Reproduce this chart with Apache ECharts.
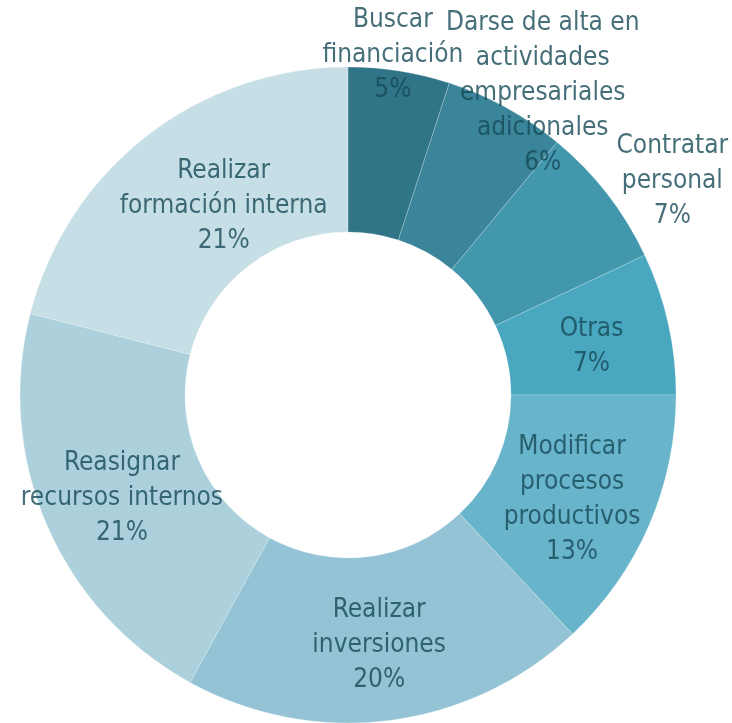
<!DOCTYPE html>
<html>
<head>
<meta charset="utf-8">
<script src="https://cdn.jsdelivr.net/npm/echarts@6/dist/echarts.min.js"></script>
<style>
  html, body { margin: 0; padding: 0; background: #fff; }
  #chart { width: 732px; height: 723px; }
</style>
</head>
<body>
<div id="chart"></div>
<script>
// Acciones adoptadas (%)
const categories = [
  'Buscar\nfinanciación',
  'Darse de alta en\nactividades\nempresariales\nadicionales',
  'Contratar\npersonal',
  'Otras',
  'Modificar\nprocesos\nproductivos',
  'Realizar\ninversiones',
  'Reasignar\nrecursos internos',
  'Realizar\nformación interna'
]
const values = [5, 6, 7, 7, 13, 20, 21, 21]
const colors = ['#2f7487', '#3a8599', '#4397ad', '#49a7bf', '#68b4ca', '#93c3d4', '#acd1dd', '#c6dee6']
// label nudges (px) from the default inside position
const labelShift = [[6, -94], [75, -84], [128, -61], [1, 6], [-4, 6], [0, 4], [2, 5], [28, 8]]

const chart = echarts.init(document.getElementById('chart'))
chart.setOption({
  animation: false,
  series: [{
    type: 'pie',
    center: [348, 395],
    radius: [163, 328],
    startAngle: 90,
    clockwise: true,
    avoidLabelOverlap: false,
    itemStyle: {
      borderColor: 'rgba(255,255,255,0.35)',
      borderWidth: 0.6
    },
    label: {
      show: true,
      position: 'inside',
      formatter: p => p.name + '\n' + p.value + '%',
      color: 'rgba(22,74,88,0.8)',
      fontFamily: '"DejaVu Sans Condensed", sans-serif',
      fontSize: 26,
      lineHeight: 35,
      align: 'center'
    },
    labelLine: { show: false },
    labelLayout: params => ({
      dx: labelShift[params.dataIndex][0],
      dy: labelShift[params.dataIndex][1]
    }),
    data: categories.map((name, i) => ({
      name: name,
      value: values[i],
      itemStyle: { color: colors[i] }
    }))
  }]
})
</script>
</body>
</html>
